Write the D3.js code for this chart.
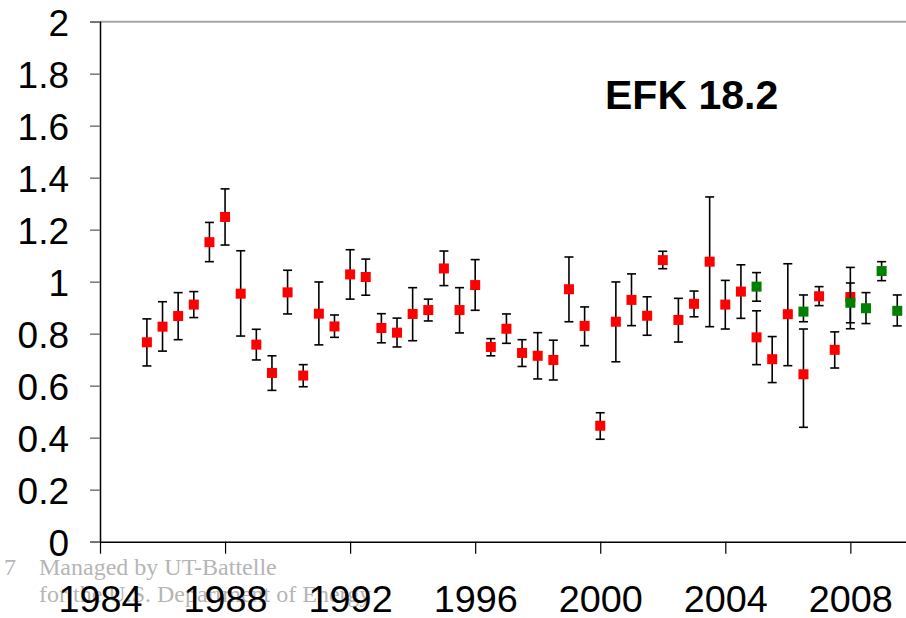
<!DOCTYPE html>
<html>
<head>
<meta charset="utf-8">
<script src="https://cdn.jsdelivr.net/npm/d3@7"></script>
<style>
  body { margin: 0; background: #fff; }
  svg { display: block; font-family: 'Liberation Sans', Arial, sans-serif; }
</style>
</head>
<body>
<svg width="906" height="618"></svg>
<script>
// red series (older sampling)
const redYears = [1985.5, 1986, 1986.5, 1987, 1987.5, 1988, 1988.5, 1989, 1989.5, 1990,
  1990.5, 1991, 1991.5, 1992, 1992.5, 1993, 1993.5, 1994, 1994.5, 1995,
  1995.5, 1996, 1996.5, 1997, 1997.5, 1998, 1998.5, 1999, 1999.5, 2000,
  2000.5, 2001, 2001.5, 2002, 2002.5, 2003, 2003.5, 2004, 2004.5, 2005,
  2005.5, 2006, 2006.5, 2007, 2007.5, 2008];
const redValues = [0.767, 0.827, 0.868, 0.912, 1.152, 1.249, 0.954, 0.758, 0.649, 0.959,
  0.639, 0.877, 0.828, 1.028, 1.018, 0.822, 0.804, 0.876, 0.891, 1.051,
  0.891, 0.987, 0.749, 0.819, 0.726, 0.715, 0.699, 0.971, 0.830, 0.446,
  0.846, 0.930, 0.869, 1.083, 0.853, 0.915, 1.077, 0.912, 0.962, 0.786,
  0.702, 0.875, 0.644, 0.944, 0.738, 0.941];
const redLow = [0.676, 0.733, 0.777, 0.862, 1.077, 1.141, 0.791, 0.699, 0.582, 0.876,
  0.596, 0.757, 0.786, 0.933, 0.948, 0.765, 0.749, 0.773, 0.849, 0.985,
  0.803, 0.890, 0.715, 0.763, 0.674, 0.626, 0.622, 0.846, 0.754, 0.394,
  0.692, 0.831, 0.794, 1.050, 0.768, 0.865, 0.827, 0.818, 0.859, 0.681,
  0.612, 0.677, 0.440, 0.908, 0.668, 0.842];
const redHigh = [0.857, 0.923, 0.958, 0.962, 1.228, 1.357, 1.119, 0.817, 0.715, 1.044,
  0.681, 0.999, 0.872, 1.123, 1.087, 0.877, 0.860, 0.977, 0.933, 1.118,
  0.977, 1.085, 0.781, 0.876, 0.777, 0.804, 0.775, 1.095, 0.903, 0.496,
  0.999, 1.030, 0.942, 1.117, 0.936, 0.964, 1.326, 1.005, 1.065, 0.888,
  0.789, 1.069, 0.818, 0.981, 0.807, 1.055];

// green series (newer sampling)
const greenYears = [2005, 2006.5, 2008, 2008.5, 2009, 2009.5];
const greenValues = [0.981, 0.885, 0.919, 0.898, 1.041, 0.888];
const greenLow = [0.925, 0.846, 0.819, 0.839, 1.004, 0.830];
const greenHigh = [1.035, 0.949, 0.995, 0.958, 1.077, 0.949];

const yTicks = [0, 0.2, 0.4, 0.6, 0.8, 1, 1.2, 1.4, 1.6, 1.8, 2];
const xTicks = [1984, 1988, 1992, 1996, 2000, 2004, 2008];
const titleText = 'EFK 18.2';
const footerLines = ['Managed by UT-Battelle', 'for the U.S. Department of Energy'];

const svg = d3.select('svg');
const width = +svg.attr('width');

const xScale = d3.scaleLinear()
  .domain([1984, 2009.78])
  .range([100, width]);

const yScale = d3.scaleLinear()
  .domain([0, 2])
  .range([541.7, 21.7]);

// footer text sits behind the axis labels
const footer = svg.append('g')
  .attr('font-family', "'Liberation Serif', 'Times New Roman', serif")
  .attr('font-size', 24)
  .attr('fill', '#b5b5b5');
footer.append('text').attr('x', 4).attr('y', 575).text('7');
footer.selectAll('text.line').data(footerLines)
  .enter().append('text')
    .attr('class', 'line')
    .attr('x', 39)
    .attr('y', (d, i) => 575 + i * 27)
    .text(d => d);

// grey top border
svg.append('line')
  .attr('x1', xScale(1984)).attr('x2', width)
  .attr('y1', yScale(2)).attr('y2', yScale(2))
  .attr('stroke', '#a6a6a6')
  .attr('stroke-width', 2);

// y axis
const yAxisG = svg.append('g')
  .attr('transform', `translate(${xScale(1984)},0)`)
  .call(d3.axisLeft(yScale)
    .tickValues(yTicks)
    .tickFormat(d => String(+d.toFixed(1)))
    .tickSize(10)
    .tickPadding(21));
yAxisG.select('.domain').attr('stroke', '#000').attr('stroke-width', 1.5);
yAxisG.selectAll('.tick line').attr('stroke', '#777').attr('stroke-width', 1.5);
yAxisG.selectAll('.tick text')
  .attr('font-family', "'Liberation Sans', Arial, sans-serif")
  .attr('font-size', 37)
  .attr('fill', '#000')
  .attr('dy', '0.36em');

// x axis
const xAxisG = svg.append('g')
  .attr('transform', `translate(0,${yScale(0)})`)
  .call(d3.axisBottom(xScale)
    .tickValues(xTicks)
    .tickFormat(d3.format('d'))
    .tickSize(12)
    .tickSizeOuter(0));
xAxisG.select('.domain').attr('stroke', '#000').attr('stroke-width', 1.5);
xAxisG.selectAll('.tick line').attr('stroke', '#000').attr('stroke-width', 1.2);
xAxisG.selectAll('.tick text')
  .attr('font-family', "'Liberation Sans', Arial, sans-serif")
  .attr('font-size', 37.8)
  .attr('fill', '#000')
  .attr('y', 70.5)
  .attr('dy', 0);

// error bars + square markers
const drawSeries = (years, values, low, high, colour) => {
  const data = years.map((yr, i) => ({ yr, v: values[i], lo: low[i], hi: high[i] }));
  const g = svg.append('g');
  const bars = g.selectAll('g.bar').data(data)
    .enter().append('g')
      .attr('class', 'bar')
      .attr('stroke', '#000')
      .attr('stroke-width', 1.6);
  bars.append('line')
    .attr('x1', d => xScale(d.yr)).attr('x2', d => xScale(d.yr))
    .attr('y1', d => yScale(d.lo)).attr('y2', d => yScale(d.hi));
  bars.append('line')
    .attr('x1', d => xScale(d.yr) - 4.5).attr('x2', d => xScale(d.yr) + 4.5)
    .attr('y1', d => yScale(d.hi)).attr('y2', d => yScale(d.hi));
  bars.append('line')
    .attr('x1', d => xScale(d.yr) - 4.5).attr('x2', d => xScale(d.yr) + 4.5)
    .attr('y1', d => yScale(d.lo)).attr('y2', d => yScale(d.lo));
  g.selectAll('rect').data(data)
    .enter().append('rect')
      .attr('x', d => xScale(d.yr) - 5)
      .attr('y', d => yScale(d.v) - 5)
      .attr('width', 10)
      .attr('height', 10)
      .attr('fill', colour);
};

drawSeries(redYears, redValues, redLow, redHigh, '#ff0000');
drawSeries(greenYears, greenValues, greenLow, greenHigh, '#008000');

// title
svg.append('text')
  .attr('x', 605)
  .attr('y', 109)
  .attr('font-family', "'Liberation Sans', Arial, sans-serif")
  .attr('font-weight', 'bold')
  .attr('font-size', 41)
  .attr('fill', '#000')
  .text(titleText);
</script>
</body>
</html>
